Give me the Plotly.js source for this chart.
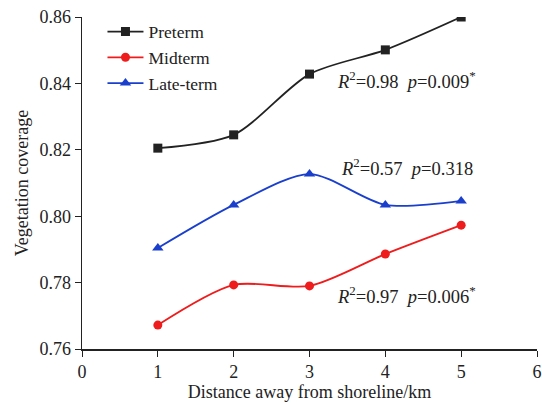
<!DOCTYPE html>
<html><head><meta charset="utf-8">
<script src="https://cdn.plot.ly/plotly-3.0.1.min.js"></script>
<style>body{margin:0;background:#fff}#c{width:542px;height:403px}</style>
</head><body><div id="c"></div>
<script>
const distance = [1, 2, 3, 4, 5];
const preterm = [0.8205, 0.8245, 0.8428, 0.8501, 0.8600];
const midterm = [0.7672, 0.7793, 0.7790, 0.7886, 0.7973];
const lateterm = [0.7904, 0.8034, 0.8127, 0.8034, 0.8046];
const xTicks = [0, 1, 2, 3, 4, 5, 6];
const yTicks = [0.76, 0.78, 0.80, 0.82, 0.84, 0.86];
const stats = [
  {x: 4.28, y: 0.8410, r2: '0.98', p: '0.009', star: true},
  {x: 4.28, y: 0.8148, r2: '0.57', p: '0.318', star: false},
  {x: 4.28, y: 0.7762, r2: '0.97', p: '0.006', star: true}
];
const font = 'Liberation Serif, Times New Roman, serif';
function tr(name, y, color, symbol) {
  return {x: distance, y: y, name: name, mode: 'lines+markers', type: 'scatter',
    line: {color: color, width: 1.8, shape: 'spline', smoothing: 0.8},
    marker: {color: color, symbol: symbol, size: symbol === 'triangle-up' ? 10 : 9}};
}
const data = [
  tr('Preterm', preterm, '#222222', 'square'),
  tr('Midterm', midterm, '#ee1c1c', 'circle'),
  tr('Late-term', lateterm, '#1a3fcc', 'triangle-up')
];
const annotations = stats.map(s => ({
  x: s.x, y: s.y, xref: 'x', yref: 'y', showarrow: false,
  text: '<i>R</i><sup>2</sup>=' + s.r2 + '  <i>p</i>=' + s.p + (s.star ? '<sup>*</sup>' : ''),
  font: {family: font, size: 18.5, color: '#222'}
}));
const layout = {
  width: 542, height: 403,
  margin: {l: 82, r: 5, t: 17, b: 54},
  paper_bgcolor: '#fff', plot_bgcolor: '#fff',
  font: {family: font, size: 18, color: '#222'},
  showlegend: true,
  legend: {x: 0.045, y: 1.01, xanchor: 'left', yanchor: 'top', bgcolor: 'rgba(0,0,0,0)',
    font: {family: font, size: 17.5, color: '#222'}, tracegroupgap: 0, itemwidth: 36},
  xaxis: {range: [0, 6], tickvals: xTicks, ticktext: xTicks.map(String), showgrid: false, zeroline: false,
    showline: true, linecolor: '#222', linewidth: 1.5, ticks: 'outside', ticklen: 6, tickcolor: '#222',
    tickfont: {family: font, size: 18},
    title: {text: 'Distance away from shoreline/km', font: {family: font, size: 18}, standoff: 4}},
  yaxis: {range: [0.76, 0.86], tickvals: yTicks, ticktext: yTicks.map(v => v.toFixed(2)), showgrid: false, zeroline: false,
    showline: true, linecolor: '#222', linewidth: 1.5, ticks: 'outside', ticklen: 6, tickcolor: '#222',
    tickfont: {family: font, size: 18},
    title: {text: 'Vegetation coverage', font: {family: font, size: 18}, standoff: 6}},
  annotations: annotations
};
Plotly.newPlot('c', data, layout, {displayModeBar: false, staticPlot: true});
</script></body></html>
